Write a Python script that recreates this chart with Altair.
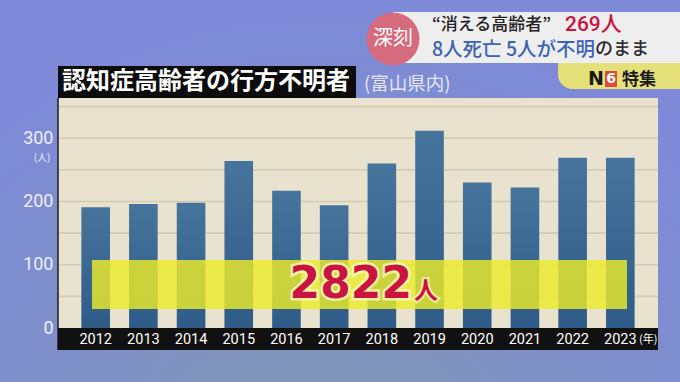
import altair as alt
import pandas as pd

years = ["2012", "2013", "2014", "2015", "2016", "2017", "2018", "2019", "2020", "2021", "2022", "2023"]
counts = [191, 196, 198, 264, 217, 194, 260, 312, 230, 222, 269, 269]
grid_values = [50, 100, 150, 200, 250, 300, 350]
y_ticks = [0, 100, 200, 300]

title_text = "認知症高齢者の行方不明者"
subtitle_text = "(富山県内)"
total_text = "2822"
unit_text = "人"
year_unit = "(年)"
count_unit = "(人)"
head_line1a = "“消える高齢者”"
head_line1b = "269人"
head_line2a = "8人死亡 5人が不明"
head_line2b = "のまま"
badge_text = "深刻"
tab_n = "N"
tab_6 = "6"
tab_text = "特集"

OX, OY = 58, 99  # plot origin in page pixels
CJK = "Noto Sans CJK JP"

df = pd.DataFrame({"year": years, "count": counts})
gdf = pd.DataFrame({"v": grid_values})
one = pd.DataFrame({"k": [0]})

yscale = alt.Scale(domain=[0, 362], nice=False, zero=True)


def px(x):
    return alt.value(x - OX)


def py(y):
    return alt.value(y - OY)


def rect(x1, y1, x2, y2, fill, **kw):
    return alt.Chart(one).mark_rect(fill=fill, **kw).encode(
        x=px(x1), x2=px(x2), y=py(y1), y2=py(y2))


def txt(t, x, y, size, color, align="left", weight="normal", font=CJK, **kw):
    return alt.Chart(one).mark_text(
        text=t, fontSize=size, color=color, align=align, baseline="middle",
        fontWeight=weight, font=font, **kw).encode(x=px(x), y=py(y))


bg = rect(0, 0, 680, 382, alt.RadialGradient(
    gradient="radial", x1=0.47, y1=0.98, x2=0.47, y2=0.98, r1=0, r2=0.75,
    stops=[alt.GradientStop(offset=0, color="#7f99a6"),
           alt.GradientStop(offset=0.5, color="#7e90c4"),
           alt.GradientStop(offset=1, color="#7e8ad8")]))

panel = rect(58, 98, 658, 328, "#e8e2cf")

grid = alt.Chart(gdf).mark_rule(color="#d4cbb3", strokeWidth=1.6).encode(
    y=alt.Y("v:Q", scale=yscale), x=alt.value(0), x2=alt.value(600))

left_edge = alt.Chart(one).mark_rule(color="#1c1c1c", strokeWidth=1.5).encode(
    x=alt.value(0), y=py(98), y2=py(350))

band = rect(58, 328, 658, 350, "#111111")

bars = alt.Chart(df).mark_bar(
    fill=alt.LinearGradient(
        gradient="linear", x1=0, y1=0, x2=0, y2=1,
        stops=[alt.GradientStop(offset=0, color="#46749c"),
               alt.GradientStop(offset=1, color="#2f5b88")])
).encode(
    x=alt.X("year:N", sort=years,
            scale=alt.Scale(paddingInner=0.4, paddingOuter=0.49),
            axis=alt.Axis(title=None, domain=False, ticks=False, tickSize=0,
                          labelAngle=0, labelColor="#ffffff",
                          labelFont="Liberation Sans Narrow, Roboto, sans-serif",
                          labelFontSize=14.5, labelPadding=11,
                          labelBaseline="middle", zindex=1)),
    y=alt.Y("count:Q", scale=yscale,
            axis=alt.Axis(title=None, values=y_ticks, domain=False, ticks=False,
                          tickSize=0, grid=False, labelColor="#eef0fa",
                          labelFont="Roboto", labelFontSize=18,
                          labelPadding=5, zindex=1)),
)

yellow = rect(92, 260, 627, 309, "#ecec2a", opacity=0.82)

glow = txt(total_text, 412, 285, 44, "#fff6b0", align="right", weight="bold",
           font="DejaVu Sans", stroke="#fffbd0", strokeWidth=5, strokeOpacity=0.7)
total = txt(total_text, 412, 285, 44, "#c8143f", align="right", weight="bold",
            font="DejaVu Sans")
unit_glow = txt(unit_text, 414, 292, 24, "#fff6b0", weight="bold",
                stroke="#fffbd0", strokeWidth=4, strokeOpacity=0.7)
unit = txt(unit_text, 414, 292, 24, "#c8143f", weight="bold")

yunit = txt(year_unit, 639, 340, 11, "#ffffff")
cunit = txt(count_unit, 42, 158, 10, "#eef0fa", align="center")

title_box = rect(58, 66, 356, 98, "#0c0c0c")
title = txt(title_text, 62, 82, 24, "#ffffff", weight="bold")
subtitle = txt(subtitle_text, 364, 84, 18.5, "#e4e7f2")

tab = rect(558, 60, 680, 89, "#e6e07a", cornerRadiusBottomLeft=16)
head_panel = rect(393, 12, 680, 63, "#eeeeee")
badge = alt.Chart(one).mark_circle(size=2809, color="#d66b7e", opacity=1).encode(
    x=px(393), y=py(39))
badge_t = txt(badge_text, 393, 39, 20, "#ffffff", align="center")
l1a = txt(head_line1a, 432, 25, 17, "#222222", weight=500)
l1b = txt(head_line1b, 565, 25, 21, "#c8143f", weight=500, font="Roboto, " + CJK)
l2a = txt(head_line2a, 432, 50, 19.5, "#3c62b2", weight=500)
l2b = txt(head_line2b, 595, 50, 18, "#2a2a2a", weight=500)
n_t = txt(tab_n, 588, 79, 19, "#1a1a1a", weight="bold", font="DejaVu Sans")
six_box = rect(605, 71, 617, 87, "#e04a3a")
six_t = txt(tab_6, 611, 79, 14, "#ffffff", align="center", weight="bold",
            font="DejaVu Sans")
tab_t = txt(tab_text, 622, 80, 17, "#1a1a1a", weight="bold")

chart = alt.layer(
    bg, panel, grid, left_edge, band, bars, yellow, glow, total, unit_glow, unit,
    yunit, cunit, title_box, title, subtitle, tab, head_panel, badge, badge_t,
    l1a, l1b, l2a, l2b, n_t, six_box, six_t, tab_t
).properties(
    width=600, height=229, autosize="none",
    padding={"left": OX, "top": OY, "right": 22, "bottom": 54},
    background="#7e8bd3",
).configure_view(stroke=None)

chart.save("out.html", embed_options={"renderer": "svg", "actions": False})
